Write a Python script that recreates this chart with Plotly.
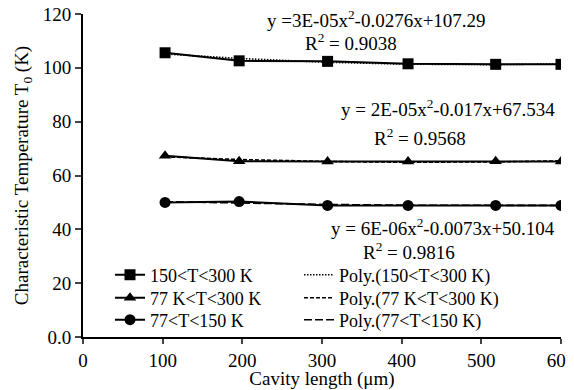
import numpy as np
import plotly.graph_objects as go

cavity_length = [103, 196, 307, 408, 518, 600]
t0_150_300 = [105.6, 102.6, 102.4, 101.5, 101.3, 101.3]
t0_77_300 = [67.3, 65.3, 65.2, 65.2, 65.3, 65.2]
t0_77_150 = [50.0, 50.3, 48.9, 48.9, 48.9, 48.9]

series_names = ["150<T<300 K", "77 K<T<300 K", "77<T<150 K"]
poly_names = ["Poly.(150<T<300 K)", "Poly.(77 K<T<300 K)", "Poly.(77<T<150 K)"]
symbols = ["square", "triangle-up", "circle"]
poly_dash = ["1.5px,1.5px", "4px,2px", "8px,3px"]
equations = ["y =3E-05x<sup>2</sup>-0.0276x+107.29", "y = 2E-05x<sup>2</sup>-0.017x+67.534",
             "y = 6E-06x<sup>2</sup>-0.0073x+50.104"]
r2_texts = ["R<sup>2</sup> = 0.9038", "R<sup>2</sup> = 0.9568", "R<sup>2</sup> = 0.9816"]

x_ticks = [0, 100, 200, 300, 400, 500, 600]
y_ticks = [0, 20, 40, 60, 80, 100, 120]
y_ticktext = ["0.0", "20", "40", "60", "80", "100", "120"]

FONT = "Liberation Serif"
OFF = 8  # page body margin
W, H = 574 - OFF, 390 - OFF
L, T = 83 - OFF, 14 - OFF
R = W - (561 - OFF)
B = H - (337 - OFF)
PW, PH = W - L - R, H - T - B


def px_x(p):
    return (p - OFF - L) / PW


def px_y(p):
    return (H - B - (p - OFF)) / PH


fig = go.Figure()
data = [t0_150_300, t0_77_300, t0_77_150]
x = np.array(cavity_length, dtype=float)
for i, (vals, name, sym) in enumerate(zip(data, series_names, symbols)):
    fig.add_trace(go.Scatter(x=cavity_length, y=vals, name=name, mode="lines+markers",
                             line=dict(color="black", width=2),
                             marker=dict(symbol=sym, size=11, color="black"),
                             showlegend=True,
                             legend="legend" if i == 0 else f"legend{i + 1}"))
for i, (vals, name, dash) in enumerate(zip(data, poly_names, poly_dash)):
    coef = np.polyfit(x, np.array(vals), 2)
    fig.add_trace(go.Scatter(x=cavity_length, y=np.polyval(coef, x), name=name, mode="lines",
                             line=dict(color="black", width=1.6, dash=dash),
                             showlegend=True,
                             legend=f"legend{i + 4}"))

# annotation centres in data coordinates
ann_pos = [(368, 118.1, 336, 109.5), (458, 85.2, 423, 74.4), (452, 40.7, 409, 32.1)]
for (ex, ey, rx, ry), eq, r2 in zip(ann_pos, equations, r2_texts):
    fig.add_annotation(x=ex, y=ey, text=eq, showarrow=False, font=dict(size=19, color="black", family=FONT))
    fig.add_annotation(x=rx, y=ry, text=r2, showarrow=False, font=dict(size=19, color="black", family=FONT))

row_px = [275, 298, 320]
legends = {}
for i in range(6):
    key = "legend" if i == 0 else f"legend{i + 1}"
    col_x = px_x(110) if i < 3 else px_x(299)
    legends[key] = dict(x=col_x, y=px_y(row_px[i % 3]), xanchor="left", yanchor="middle",
                        bgcolor="rgba(0,0,0,0)", font=dict(size=18, family=FONT), borderwidth=0,
                        visible=True)

fig.update_layout(
    width=W, height=H,
    margin=dict(l=L, r=R, t=T, b=B),
    showlegend=True,
    paper_bgcolor="white", plot_bgcolor="white",
    font=dict(family=FONT, size=19, color="black"),
    xaxis=dict(range=[0, 600], tickvals=x_ticks, ticks="outside", ticklen=5, tickwidth=2,
               showline=True, linecolor="black", linewidth=2, showgrid=False, zeroline=False,
               automargin=False, ticklabeloverflow="allow",
               tickfont=dict(size=19),
               title=dict(text="Cavity length (μm)", standoff=1, font=dict(size=19))),
    yaxis=dict(range=[0, 120], tickvals=y_ticks, ticktext=y_ticktext, ticks="outside", ticklen=6,
               tickwidth=2, showline=True, linecolor="black", linewidth=2, showgrid=False,
               zeroline=False, automargin=False, tickfont=dict(size=19), ticklabeloverflow="allow",
               title=dict(text="Characteristic Temperature T<sub>0</sub> (K)", standoff=9,
                          font=dict(size=19))),
    **legends,
)
fig.write_html("out.html")
